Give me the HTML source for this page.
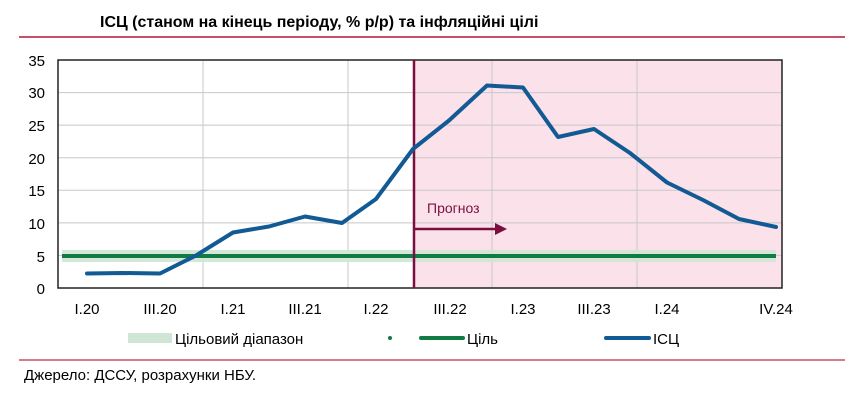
<!DOCTYPE html>
<html><head><meta charset="utf-8"><style>
body{margin:0;background:#fff;width:860px;height:404px;overflow:hidden;font-family:"Liberation Sans",Arial,sans-serif}
</style></head><body>
<svg width="860" height="404" xmlns="http://www.w3.org/2000/svg" font-family="Liberation Sans, Arial, sans-serif">
<text x="100" y="27" font-size="16" font-weight="bold" fill="#000">ІСЦ (станом на кінець періоду, % р/р) та інфляційні цілі</text>
<line x1="19" y1="37" x2="845" y2="37" stroke="#c8506a" stroke-width="2"/>
<rect x="413" y="60" width="369" height="228" fill="#fbe1ea"/>
<g stroke="#c8c8c8" stroke-width="1">
<line x1="58" y1="92.6" x2="782" y2="92.6"/><line x1="58" y1="125.1" x2="782" y2="125.1"/>
<line x1="58" y1="157.7" x2="782" y2="157.7"/><line x1="58" y1="190.3" x2="782" y2="190.3"/>
<line x1="58" y1="222.9" x2="782" y2="222.9"/><line x1="58" y1="255.4" x2="782" y2="255.4"/>
<line x1="203" y1="60" x2="203" y2="288"/><line x1="348" y1="60" x2="348" y2="288"/>
<line x1="492" y1="60" x2="492" y2="288"/><line x1="637" y1="60" x2="637" y2="288"/>
</g>
<rect x="62" y="250" width="714" height="12" fill="#cfe5d6" opacity="0.9"/>
<line x1="62" y1="256" x2="776" y2="256" stroke="#127a43" stroke-width="4"/>
<rect x="58" y="60" width="724" height="228" fill="none" stroke="#222" stroke-width="1.5"/>
<line x1="414" y1="60" x2="414" y2="288" stroke="#7b1040" stroke-width="2.5"/>
<text x="427" y="213" font-size="14" fill="#7b1040">Прогноз</text>
<line x1="415" y1="229" x2="496" y2="229" stroke="#7b1040" stroke-width="2.5"/>
<polygon points="495,223 507,229 495,235" fill="#7b1040"/>
<polyline fill="none" stroke="#125a94" stroke-width="4" stroke-linejoin="round" stroke-linecap="round"
points="87,273.5 123,273 160,273.5 196,255.5 233,232.5 269,226.5 305,216.5 342,223 376,199 413,149 449,120.5 487,85.5 523,87.5 558,137 594,129 630,153 667,182.5 703,200 739,219 776,227"/>
<g font-size="15" fill="#000" text-anchor="end">
<text x="45" y="66">35</text><text x="45" y="98">30</text><text x="45" y="131">25</text>
<text x="45" y="164">20</text><text x="45" y="196">15</text><text x="45" y="229">10</text>
<text x="45" y="262">5</text><text x="45" y="294">0</text>
</g>
<g font-size="15" fill="#000" text-anchor="middle">
<text x="87" y="314">I.20</text><text x="160" y="314">III.20</text><text x="233" y="314">I.21</text>
<text x="305" y="314">III.21</text><text x="376" y="314">I.22</text><text x="450" y="314">III.22</text>
<text x="523" y="314">I.23</text><text x="594" y="314">III.23</text><text x="667" y="314">I.24</text>
<text x="776" y="314">IV.24</text>
</g>
<rect x="128" y="333" width="44" height="10" fill="#cfe5d6"/>
<text x="175" y="344" font-size="15">Цільовий діапазон</text>
<circle cx="390" cy="338" r="2" fill="#127a43"/>
<line x1="421" y1="338" x2="463" y2="338" stroke="#127a43" stroke-width="4" stroke-linecap="round"/>
<text x="467" y="344" font-size="15">Ціль</text>
<line x1="606" y1="338" x2="649" y2="338" stroke="#125a94" stroke-width="4" stroke-linecap="round"/>
<text x="653" y="344" font-size="15">ІСЦ</text>
<line x1="19" y1="360" x2="845" y2="360" stroke="#c8506a" stroke-width="1.5"/>
<text x="24" y="380" font-size="15">Джерело: ДССУ, розрахунки НБУ.</text>
</svg>
</body></html>
